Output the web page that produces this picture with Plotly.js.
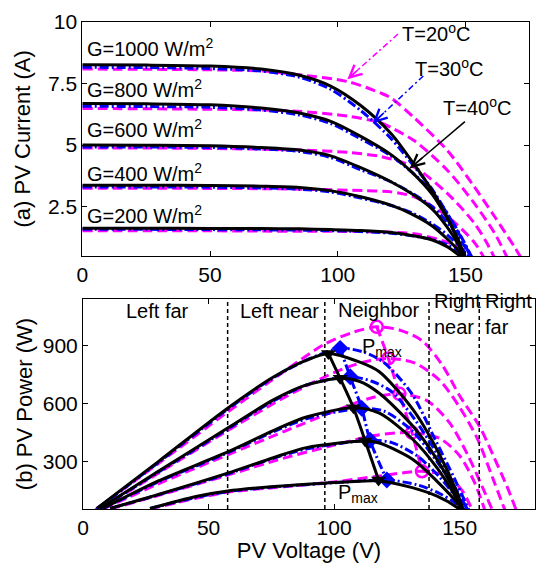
<!DOCTYPE html>
<html>
<head>
<meta charset="utf-8">
<script src="https://cdn.plot.ly/plotly-3.0.1.min.js"></script>
<style>html,body{margin:0;padding:0;background:#fff}#chart{width:538px;height:563px}</style>
</head>
<body>
<div id="chart"></div>
<script>
// ---------------- DATA ----------------
const irradiances = ['G=1000 W/m<sup>2</sup>', 'G=800 W/m<sup>2</sup>', 'G=600 W/m<sup>2</sup>', 'G=400 W/m<sup>2</sup>', 'G=200 W/m<sup>2</sup>'];
const irrLabelY = [8.95, 7.28, 5.66, 3.9, 2.2];
const tempLabels = ['T=20<sup>o</sup>C', 'T=30<sup>o</sup>C', 'T=40<sup>o</sup>C'];
const regionNames = ['Left far', 'Left near', 'Neighbor', 'Right<br>near', 'Right<br>far'];
const regionBounds = [57.6, 96.3, 137.8, 157.8];

// I-V, T=40 C (black)
const vIV40 = [0, 25, 50, 70, 85, 97, 109, 121, 129, 137, 143, 147, 150];
const iIV40_1000 = [8.25, 8.24, 8.2, 8.08, 7.83, 7.4, 6.6, 5.45, 4.35, 3.15, 2.05, 1.15, 0.3];
const iIV40_800  = [6.68, 6.67, 6.63, 6.5, 6.3, 5.97, 5.35, 4.6, 3.9, 3.0, 2.0, 1.2, 0.4];
const iIV40_600  = [5.0, 4.99, 4.97, 4.9, 4.8, 4.57, 4.08, 3.5, 3.02, 2.4, 1.65, 1.0, 0.4];
const iIV40_400  = [3.37, 3.37, 3.36, 3.33, 3.28, 3.15, 2.9, 2.55, 2.2, 1.72, 1.18, 0.75, 0.35];
const iIV40_200  = [1.63, 1.63, 1.62, 1.61, 1.6, 1.57, 1.53, 1.45, 1.33, 1.15, 0.87, 0.57, 0.3];

// I-V, T=30 C (blue)
const vIV30 = [0, 25, 50, 70, 85, 97, 109, 121, 129, 137, 143, 148, 153];
const iIV30_1000 = [8.15, 8.14, 8.1, 8.0, 7.75, 7.27, 6.4, 5.25, 4.25, 3.2, 2.2, 1.3, 0.3];
const iIV30_800  = [6.57, 6.56, 6.53, 6.42, 6.22, 5.88, 5.25, 4.55, 3.9, 3.1, 2.2, 1.35, 0.35];
const iIV30_600  = [4.92, 4.92, 4.9, 4.84, 4.74, 4.5, 4.0, 3.5, 3.05, 2.5, 1.85, 1.15, 0.35];
const iIV30_400  = [3.3, 3.3, 3.29, 3.26, 3.21, 3.1, 2.85, 2.55, 2.25, 1.8, 1.35, 0.85, 0.3];
const iIV30_200  = [1.58, 1.58, 1.57, 1.56, 1.55, 1.53, 1.49, 1.42, 1.32, 1.17, 0.95, 0.65, 0.3];

// I-V, T=20 C (magenta)
const vIV20_1000 = [0, 25, 50, 70, 84, 104, 117, 121, 130, 143, 153.5, 161.4, 169, 172.5];
const iIV20_1000 = [8.08, 8.07, 8.05, 8.0, 7.86, 7.57, 7.1, 6.9, 6.1, 4.77, 3.3, 2.1, 0.9, 0.3];
const vIV20_800  = [0, 25, 50, 70, 84, 104, 117, 121, 130, 143, 153.5, 161.4, 167];
const iIV20_800  = [6.48, 6.47, 6.45, 6.42, 6.37, 6.17, 5.9, 5.7, 5.17, 3.97, 2.63, 1.43, 0.3];
const vIV20_600  = [0, 25, 50, 70, 90, 104, 117, 130, 143, 153.5, 158, 162];
const iIV20_600  = [4.88, 4.88, 4.86, 4.83, 4.78, 4.7, 4.53, 4.1, 3.03, 1.83, 1.1, 0.3];
const vIV20_400  = [0, 25, 50, 70, 90, 110, 121, 130, 143, 153.5, 158];
const iIV20_400  = [3.25, 3.25, 3.24, 3.23, 3.2, 3.15, 3.1, 2.9, 2.1, 1.05, 0.3];
const vIV20_200  = [0, 25, 50, 70, 90, 110, 130, 143, 150, 154.5];
const iIV20_200  = [1.52, 1.52, 1.52, 1.51, 1.5, 1.49, 1.4, 1.05, 0.7, 0.2];

// P-V, T=40 C (black)
const vPV40_1000 = [5.5, 30, 57.6, 76, 89, 97.7, 110, 118, 131.5, 141, 149, 152];
const pPV40_1000 = [58, 300, 576, 738, 824, 859, 815, 764, 567, 361, 139, 30];
const vPV40_800  = [6.8, 30, 57.6, 75.8, 89, 102.4, 110, 118, 131.5, 141, 149, 152];
const pPV40_800  = [58, 250, 473, 619, 696, 730, 715, 653, 481, 310, 121, 30];
const vPV40_600  = [8, 30, 57.6, 75.8, 89, 107.7, 118, 131.5, 141, 149, 152];
const pPV40_600  = [58, 200, 350, 460, 530, 578, 550, 413, 267, 104, 30];
const vPV40_400  = [10.8, 30, 57.6, 75.8, 89, 112.4, 118, 131.5, 141, 149, 152];
const pPV40_400  = [58, 130, 240, 320, 372, 406, 396, 310, 198, 87, 30];
const vPV40_200  = [26.7, 45, 57.6, 75, 89, 105, 117.7, 131.5, 141, 149, 151];
const pPV40_200  = [58, 120, 148, 170, 183, 195, 200, 164, 121, 63, 40];

// P-V, T=30 C (blue)
const vPV30_1000 = [5.5, 30, 57.6, 76, 90, 102.4, 112, 120, 131, 140, 148, 154];
const pPV30_1000 = [55, 295, 570, 735, 830, 885, 865, 810, 650, 420, 210, 40];
const vPV30_800  = [6.8, 30, 57.6, 76, 90, 106.4, 115, 123, 132, 141, 148, 154];
const pPV30_800  = [58, 245, 468, 615, 700, 738, 715, 660, 520, 340, 170, 35];
const vPV30_600  = [8, 30, 57.6, 76, 90, 111, 120, 131, 141, 148, 154];
const pPV30_600  = [58, 195, 345, 455, 525, 575, 560, 460, 300, 160, 35];
const vPV30_400  = [10.8, 30, 57.6, 76, 90, 114.3, 123, 133, 142, 149, 154];
const pPV30_400  = [58, 128, 236, 318, 368, 410, 398, 330, 220, 110, 30];
const vPV30_200  = [26.7, 45, 57.6, 75, 90, 105, 121, 133, 142, 149, 154];
const pPV30_200  = [58, 115, 145, 168, 182, 195, 205, 180, 135, 80, 25];

// P-V, T=20 C (magenta)
const vPV20_1000 = [5, 30, 57.6, 80, 96, 108, 117, 126, 135, 143, 150, 158, 163.5, 168.8, 172.5];
const pPV20_1000 = [52, 290, 556, 765, 905, 970, 996, 980, 925, 800, 640, 480, 327, 173, 50];
const vPV20_800  = [6.8, 30, 57.6, 80, 100, 112, 121.6, 132, 142, 150, 157, 163, 168];
const pPV20_800  = [55, 240, 460, 630, 760, 815, 833, 810, 720, 580, 420, 220, 50];
const vPV20_600  = [8, 30, 57.6, 80, 100, 115, 126, 137, 146, 153, 159, 163];
const pPV20_600  = [55, 185, 335, 455, 560, 630, 650, 615, 500, 340, 170, 50];
const vPV20_400  = [10.8, 30, 57.6, 80, 100, 116, 131, 142, 150, 156, 160];
const pPV20_400  = [55, 125, 230, 318, 385, 435, 450, 420, 330, 190, 50];
const vPV20_200  = [26.7, 45, 57.6, 80, 100, 118, 135, 145, 151, 155];
const pPV20_200  = [55, 110, 142, 170, 195, 225, 250, 225, 150, 50];

// Maximum power points
const vMpp40 = [97.7, 102.4, 107.7, 112.4, 117.7];
const pMpp40 = [859, 730, 578, 406, 205];
const vMpp30 = [102.4, 106.4, 111, 114.3, 121];
const pMpp30 = [885, 738, 575, 410, 205];
const vMpp20 = [117, 121.6, 126, 131, 135];
const pMpp20 = [996, 833, 650, 450, 250];

// ---------------- STYLE ----------------
const FONT = 'Liberation Sans, Arial, Helvetica, sans-serif';
const MAG = '#FF00FF', BLU = '#0000FF', BLK = '#000000';
const lineMag = {color: MAG, width: 3, dash: '10px,5px', shape: 'spline', smoothing: 0.8};
const lineBlu = {color: BLU, width: 3, dash: '9px,3px,2px,3px', shape: 'spline', smoothing: 0.8};
const lineBlk = {color: BLK, width: 3, shape: 'spline', smoothing: 0.8};

function tr(x, y, line, xa, ya, extra) {
  return Object.assign({type: 'scatter', mode: 'lines', x: x, y: y, line: line,
    xaxis: xa, yaxis: ya, hoverinfo: 'skip', showlegend: false}, extra || {});
}

const traces = [];
// top: I-V
[[vIV20_1000, iIV20_1000], [vIV20_800, iIV20_800], [vIV20_600, iIV20_600], [vIV20_400, iIV20_400], [vIV20_200, iIV20_200]]
  .forEach(d => traces.push(tr(d[0], d[1], lineMag, 'x', 'y')));
[iIV30_1000, iIV30_800, iIV30_600, iIV30_400, iIV30_200]
  .forEach(d => traces.push(tr(vIV30, d, lineBlu, 'x', 'y')));
[iIV40_1000, iIV40_800, iIV40_600, iIV40_400, iIV40_200]
  .forEach(d => traces.push(tr(vIV40, d, lineBlk, 'x', 'y')));
// bottom: P-V
[[vPV20_1000, pPV20_1000], [vPV20_800, pPV20_800], [vPV20_600, pPV20_600], [vPV20_400, pPV20_400], [vPV20_200, pPV20_200]]
  .forEach(d => traces.push(tr(d[0], d[1], lineMag, 'x2', 'y2')));
traces.push(tr(vMpp20, pMpp20, lineMag, 'x2', 'y2', {mode: 'lines+markers',
  marker: {symbol: 'circle-open', size: 12, color: MAG, line: {width: 2.5, color: MAG}}}));
[[vPV30_1000, pPV30_1000], [vPV30_800, pPV30_800], [vPV30_600, pPV30_600], [vPV30_400, pPV30_400], [vPV30_200, pPV30_200]]
  .forEach(d => traces.push(tr(d[0], d[1], lineBlu, 'x2', 'y2')));
traces.push(tr(vMpp30, pMpp30, lineBlu, 'x2', 'y2', {mode: 'lines+markers',
  marker: {symbol: 'diamond', size: 13, color: BLU}}));
[[vPV40_1000, pPV40_1000], [vPV40_800, pPV40_800], [vPV40_600, pPV40_600], [vPV40_400, pPV40_400], [vPV40_200, pPV40_200]]
  .forEach(d => traces.push(tr(d[0], d[1], lineBlk, 'x2', 'y2')));
traces.push(tr(vMpp40, pMpp40, lineBlk, 'x2', 'y2', {mode: 'lines+markers',
  marker: {symbol: 'triangle-down', size: 13, color: BLK}}));

// ---------------- LAYOUT ----------------
const axBase = {showline: true, linecolor: '#000', linewidth: 1, mirror: 'ticks', ticks: 'inside',
  ticklen: 5, tickcolor: '#000', showgrid: false, zeroline: false,
  tickfont: {family: FONT, size: 21, color: '#000'}};
const W = 538, H = 563;

const annotations = [];
irradiances.forEach((t, k) => annotations.push({xref: 'x', yref: 'y', x: 1.2, y: irrLabelY[k], text: t,
  showarrow: false, xanchor: 'left', yanchor: 'middle', font: {family: FONT, size: 20, color: '#000'}}));
// temperature labels
const tempPos = [[124.5, 9.55], [129.5, 8.15], [140.5, 6.55]];
tempLabels.forEach((t, k) => annotations.push({xref: 'x', yref: 'y', x: tempPos[k][0], y: tempPos[k][1], text: t,
  showarrow: false, xanchor: 'left', yanchor: 'middle', font: {family: FONT, size: 20, color: '#000'}}));
// arrows (tail -> head): shaft as a shape, head as an annotation arrow
const arrows = [
  {tail: [123.6, 9.5], head: [103.8, 7.67], color: MAG, dash: '6px,3px,2px,3px'},
  {tail: [133.5, 7.8], head: [113.7, 5.88], color: BLU, dash: '6px,3px,2px,3px'},
  {tail: [149.8, 5.95], head: [128.3, 4.06], color: BLK, dash: 'solid'}
];
const shapes = [];
arrows.forEach(a => {
  shapes.push({type: 'line', xref: 'x', yref: 'y', x0: a.tail[0], y0: a.tail[1], x1: a.head[0], y1: a.head[1],
    line: {color: a.color, width: 1.5, dash: a.dash}});
  annotations.push({xref: 'x', yref: 'y', axref: 'x', ayref: 'y', x: a.head[0], y: a.head[1],
    ax: a.head[0] + 0.25 * (a.tail[0] - a.head[0]), ay: a.head[1] + 0.25 * (a.tail[1] - a.head[1]),
    text: '', showarrow: true, arrowhead: 5, arrowsize: 1.6, arrowwidth: 1.5, arrowcolor: a.color});
});
// region separators
regionBounds.forEach(b => shapes.push({type: 'line', xref: 'x2', yref: 'y2 domain', x0: b, x1: b, y0: 0, y1: 1,
  line: {color: '#000', width: 1.5, dash: '4px,3px'}}));
// region labels
const regionPos = [[29.5, 1078, 'center'], [78.2, 1078, 'center'], [117.7, 1085, 'center'], [138.8, 1062, 'left'], [159.3, 1062, 'left']];
regionNames.forEach((t, k) => annotations.push({xref: 'x2', yref: 'y2', x: regionPos[k][0], y: regionPos[k][1], text: t,
  showarrow: false, xanchor: regionPos[k][2], yanchor: 'middle', align: 'left',
  font: {family: FONT, size: 20, color: '#000'}}));
// Pmax labels
annotations.push({xref: 'x2', yref: 'y2', x: 110.3, y: 892, text: 'P<sub>max</sub>', showarrow: false,
  xanchor: 'left', yanchor: 'middle', font: {family: FONT, size: 20, color: '#000'}});
annotations.push({xref: 'x2', yref: 'y2', x: 100.8, y: 135, text: 'P<sub>max</sub>', showarrow: false,
  xanchor: 'left', yanchor: 'middle', font: {family: FONT, size: 20, color: '#000'}});

const layout = {
  width: W, height: H, margin: {l: 0, r: 0, t: 0, b: 0}, paper_bgcolor: '#fff', plot_bgcolor: '#fff',
  showlegend: false, font: {family: FONT, color: '#000'},
  xaxis: Object.assign({}, axBase, {domain: [82.3 / W, 529.3 / W], range: [0, 175], tickvals: [0, 50, 100, 150], anchor: 'y'}),
  yaxis: Object.assign({}, axBase, {domain: [1 - 256 / H, 1 - 21.7 / H], range: [0.5, 10], tickvals: [2.5, 5, 7.5, 10],
    ticktext: ['2.5', '5', '7.5', '10'], anchor: 'x',
    title: {text: '(a) PV Current (A)', font: {family: FONT, size: 22, color: '#000'}, standoff: 11}}),
  xaxis2: Object.assign({}, axBase, {domain: [83 / W, 535 / W], range: [0, 180], tickvals: [0, 50, 100, 150], anchor: 'y2',
    title: {text: 'PV Voltage (V)', font: {family: FONT, size: 22, color: '#000'}, standoff: 4}}),
  yaxis2: Object.assign({}, axBase, {domain: [1 - 509 / H, 1 - 299 / H], range: [55, 1140], tickvals: [300, 600, 900], anchor: 'x2',
    title: {text: '(b) PV Power (W)', font: {family: FONT, size: 22, color: '#000'}, standoff: 4}}),
  shapes: shapes, annotations: annotations
};

Plotly.newPlot('chart', traces, layout, {staticPlot: true, displayModeBar: false});
</script>
</body>
</html>
